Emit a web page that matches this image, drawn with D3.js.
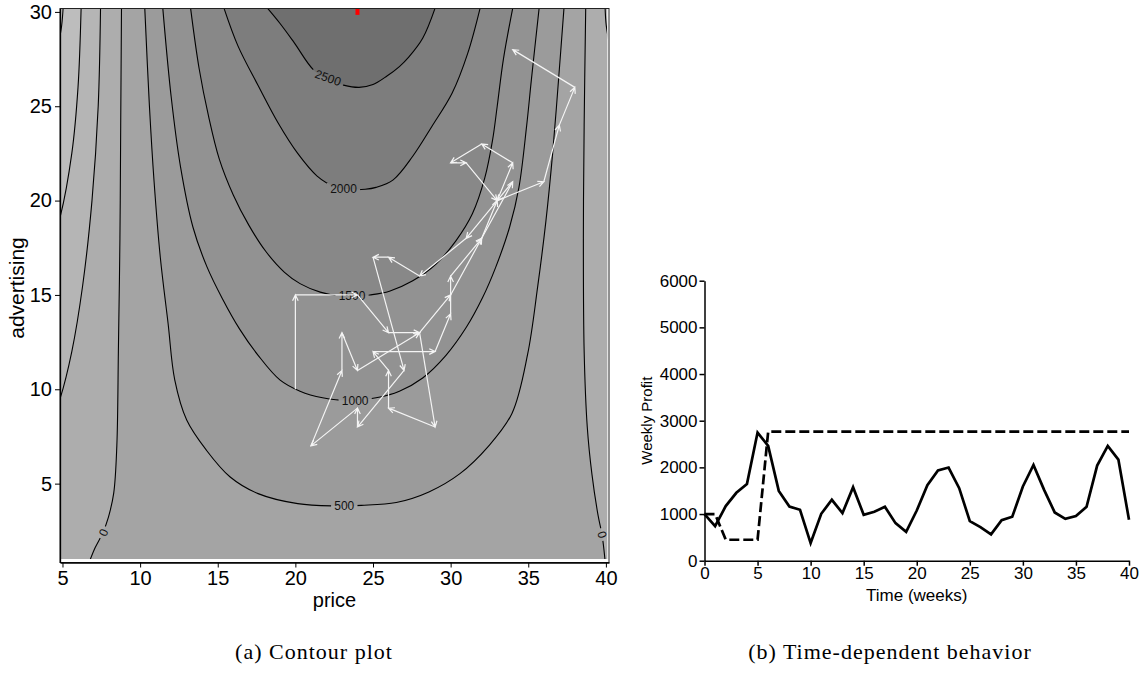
<!DOCTYPE html>
<html>
<head>
<meta charset="utf-8">
<script src="https://cdn.jsdelivr.net/npm/d3@7"></script>
<style>
  body { margin: 0; background: #fff; }
  svg { display: block; }
  .axis text { font-family: "Liberation Sans", Arial, Helvetica, sans-serif; fill: #000; }
  .axis path, .axis line { stroke: #000; }
</style>
</head>
<body>
<script>
(function () {
  'use strict';

  // contour lines, as [price, advertising] points
  const contour2500 = [[18.2, 30.2], [19.0, 29.4], [19.9, 28.4], [21.2, 26.9], [22.3, 26.35], [23.1, 26.12], [24.1, 26.0],
    [25.0, 26.15], [25.9, 26.6], [26.7, 27.1], [27.3, 27.6], [28.2, 28.6], [29.0, 30.2]];
  const contour2000 = [[15.4, 30.2], [16.3, 28.2], [17.6, 26.1], [18.9, 24.1], [20.15, 22.5], [21.4, 21.3], [22.5, 20.75],
    [23.5, 20.6], [24.5, 20.6], [25.2, 20.7], [26.3, 21.1], [27.56, 22.35], [28.8, 23.94], [30.1, 25.7], [31.1, 27.8], [31.9, 30.2]];
  const contour1500 = [[13.25, 30.2], [13.8, 27], [14.4, 24.5], [15.1, 22.2], [16.0, 20.3], [17.0, 18.7], [18.1, 17.3],
    [19.3, 16.2], [20.3, 15.6], [21.6, 15.15], [22.8, 14.95], [23.8, 14.92], [24.8, 15.0], [26.06, 15.2], [27.56, 15.75],
    [29.06, 16.64], [30.35, 17.88], [31.4, 19.3], [32.2, 21.2], [32.7, 23.2], [33.0, 25], [33.4, 27.5], [34.0, 30.2]];
  const contour1000 = [[11.46, 30.2], [12.0, 25.5], [12.6, 21.8], [13.4, 18.6], [14.3, 16.5], [15.3, 14.8], [16.4, 13.2],
    [17.6, 11.8], [19.0, 10.5], [20.3, 9.9], [21.75, 9.55], [23.4, 9.4], [25.2, 9.55], [26.7, 9.9], [28.2, 10.6],
    [29.7, 11.8], [31.0, 13.27], [32.06, 14.86], [32.9, 16.46], [33.8, 18.6], [34.4, 20.7], [34.9, 24], [35.2, 26.4], [35.7, 30.2]];
  const contour500 = [[10.3, 30.2], [10.6, 25], [10.9, 21], [11.3, 17], [11.8, 13.5], [12.23, 10.5], [13.0, 8.37],
    [14.27, 6.77], [15.8, 5.35], [17.6, 4.47], [20.15, 3.94], [22.5, 3.82], [24.24, 3.85], [26.5, 4.0], [28.6, 4.56],
    [30.6, 5.53], [32.4, 6.95], [33.95, 8.72], [34.96, 11.86], [35.6, 15.4], [36.14, 18.94], [36.57, 22.5], [36.95, 26.4], [37.3, 30.2]];
  const contour0Left = [[8.8, 30.2], [8.75, 24], [8.7, 18], [8.6, 12], [8.5, 7], [8.3, 4.5], [7.95, 3.2], [7.6, 2.4], [7.1, 1.6], [6.75, 0.9]];
  const contour0Right = [[38.7, 30.2], [38.6, 24], [38.55, 18], [38.6, 12], [38.8, 8], [39.1, 5.5], [39.5, 3.3], [39.75, 2.3], [39.95, 0.9]];
  const contourM500Left = [[7.45, 30.2], [7.3, 25], [6.9, 20], [6.3, 15.5], [5.6, 12], [4.84, 9.5], [4.6, 9.0]];
  const contourM500Right = [[39.95, 30.2], [40.02, 29.3], [40.2, 28.4]];
  const contourM1000Left = [[6.2, 30.2], [6.0, 26], [5.6, 22.5], [4.84, 19.1], [4.6, 18.5]];
  const contourM1500Left = [[5.04, 30.2], [4.95, 29.3], [4.75, 28.3]];

  const contourLabelText = ['2500', '2000', '1500', '1000', '500', '0', '0'];
  const contourLabelPrice = [22.1, 23.1, 23.65, 23.85, 23.15, 7.65, 39.75];
  const contourLabelAdv = [26.5, 20.62, 14.95, 9.4, 3.8, 2.4, 2.3];
  const contourLabelAngle = [20, 0, 0, 0, 0, -66, 75];

  // weekly moves of (price, advertising)
  const walkPrice = [20, 20, 24, 26, 28, 29, 26, 26, 25, 29, 30, 30, 32, 33, 34, 32, 30, 31, 33, 31, 28, 26, 25, 27,
    24, 24, 21, 23, 23, 24, 28, 30, 32, 34, 33, 36, 37, 38, 34];
  const walkAdvertising = [10, 15, 15, 13, 13, 8, 9, 11, 12, 12, 14, 16, 18, 20, 22, 23, 22, 22, 20, 18, 16, 17, 17, 11,
    8, 9, 7, 11, 13, 11, 13, 15, 18, 21, 20, 21, 24, 26, 28];
  const optimumPoint = [24, 30];

  const priceTicks = [5, 10, 15, 20, 25, 30, 35, 40];
  const advertisingTicks = [5, 10, 15, 20, 25, 30];

  // time series
  const weeks = [0, 1, 2, 3, 4, 5, 6, 7, 8, 9, 10, 11, 12, 13, 14, 15, 16, 17, 18, 19, 20, 21, 22, 23, 24, 25, 26, 27,
    28, 29, 30, 31, 32, 33, 34, 35, 36, 37, 38, 39, 40];
  const profitSearch = [1000, 743, 1170, 1455, 1645, 2745, 2460, 1495, 1160, 1090, 378, 1005, 1305, 1020, 1575, 984,
    1048, 1155, 805, 620, 1076, 1618, 1932, 1996, 1554, 848, 720, 563, 870, 941, 1590, 2053, 1518, 1034, 898, 955,
    1155, 2039, 2459, 2167, 877];
  const profitOptimal = [1000, 1000, 449, 449, 449, 449, 2765, 2765, 2765, 2765, 2765, 2765, 2765, 2765, 2765, 2765,
    2765, 2765, 2765, 2765, 2765, 2765, 2765, 2765, 2765, 2765, 2765, 2765, 2765, 2765, 2765, 2765, 2765, 2765, 2765,
    2765, 2765, 2765, 2765, 2765, 2765];
  const weekTicks = [0, 5, 10, 15, 20, 25, 30, 35, 40];
  const profitTicks = [0, 1000, 2000, 3000, 4000, 5000, 6000];

  // band colours, lightest (lowest) to darkest (highest)
  const bandColors = ['#c5c5c5', '#bdbdbd', '#b5b5b5', '#adadad', '#a4a4a4', '#9b9b9b', '#929292', '#888888', '#7d7d7d', '#6f6f6f'];

  const font = '"Liberation Sans", Arial, Helvetica, sans-serif';

  const svg = d3.select('body').append('svg')
    .attr('width', 1141)
    .attr('height', 682);

  drawContourPlot();
  drawTimePlot();
  drawCaptions();

  function drawContourPlot() {
    const x = d3.scaleLinear().domain([4.84, 40.2]).range([60, 609]);
    const y = d3.scaleLinear().domain([0.82, 30.18]).range([562.5, 8.5]);

    // extent of the coloured image
    const imgL = 4.84, imgR = 40.08, imgB = 1.0, imgT = 30.18;

    const defs = svg.append('defs');
    defs.append('clipPath').attr('id', 'imgClip')
      .append('rect')
      .attr('x', x(imgL))
      .attr('y', y(imgT))
      .attr('width', x(imgR) - x(imgL))
      .attr('height', y(imgB) - y(imgT));

    const line = d3.line()
      .x(d => x(d[0]))
      .y(d => y(d[1]))
      .curve(d3.curveCatmullRom.alpha(0.5));
    const asTail = (pts) => line(pts).replace(/^M/, 'L');
    const pt = (p, a) => 'L' + x(p) + ',' + y(a);

    const fills = svg.append('g').attr('clip-path', 'url(#imgClip)');

    // lowest band as background
    fills.append('rect')
      .attr('x', x(imgL)).attr('y', y(imgT))
      .attr('width', x(imgR) - x(imgL)).attr('height', y(imgB) - y(imgT))
      .attr('fill', bandColors[0]);

    // negative levels: region right of the left branch
    const outerClose = pt(4.5, 0.5) + pt(40.5, 0.5) + pt(40.5, 30.5);
    fills.append('path').attr('d', line(contourM1500Left) + outerClose + 'Z').attr('fill', bandColors[1]);
    fills.append('path').attr('d', line(contourM1000Left) + outerClose + 'Z').attr('fill', bandColors[2]);
    fills.append('path')
      .attr('d', line(contourM500Left) + pt(4.5, 0.5) + pt(40.5, 0.5) + pt(40.5, 28.3) + asTail(contourM500Right.slice().reverse()) + 'Z')
      .attr('fill', bandColors[3]);
    fills.append('path')
      .attr('d', line(contour0Left) + asTail(contour0Right.slice().reverse()) + 'Z')
      .attr('fill', bandColors[4]);

    const uShapes = [contour500, contour1000, contour1500, contour2000, contour2500];
    uShapes.forEach((c, i) => {
      fills.append('path').attr('d', line(c) + 'Z').attr('fill', bandColors[5 + i]);
    });

    // gaps in the lines under the labels
    const mask = defs.append('mask').attr('id', 'labelGap')
      .attr('maskUnits', 'userSpaceOnUse')
      .attr('x', 0).attr('y', 0).attr('width', 1141).attr('height', 682);
    mask.append('rect').attr('x', 0).attr('y', 0).attr('width', 1141).attr('height', 682).attr('fill', '#fff');
    contourLabelText.forEach((t, i) => {
      const w = t.length * 6.8 + 6;
      mask.append('rect')
        .attr('x', -w / 2).attr('y', -6)
        .attr('width', w).attr('height', 12)
        .attr('transform', 'translate(' + x(contourLabelPrice[i]) + ',' + y(contourLabelAdv[i]) + ') rotate(' + contourLabelAngle[i] + ')')
        .attr('fill', '#000');
    });

    const lines = svg.append('g').attr('clip-path', 'url(#imgClip)')
      .append('g').attr('mask', 'url(#labelGap)');
    [contourM1500Left, contourM1000Left, contourM500Left, contourM500Right, contour0Left, contour0Right]
      .concat(uShapes)
      .forEach(c => {
        lines.append('path')
          .attr('d', line(c))
          .attr('fill', 'none')
          .attr('stroke', '#000')
          .attr('stroke-width', 1.1);
      });

    svg.append('g').selectAll('text')
      .data(contourLabelText)
      .enter()
      .append('text')
      .attr('transform', (d, i) => 'translate(' + x(contourLabelPrice[i]) + ',' + y(contourLabelAdv[i]) + ') rotate(' + contourLabelAngle[i] + ')')
      .attr('text-anchor', 'middle')
      .attr('dominant-baseline', 'central')
      .style('font-family', font)
      .style('font-size', '12px')
      .style('fill', '#111')
      .text(d => d);

    // search path with arrows
    const arrows = svg.append('g').attr('clip-path', 'url(#imgClip)');
    for (let i = 0; i + 1 < walkPrice.length; i++) {
      const x1 = x(walkPrice[i]), y1 = y(walkAdvertising[i]);
      const x2 = x(walkPrice[i + 1]), y2 = y(walkAdvertising[i + 1]);
      const th = Math.atan2(y2 - y1, x2 - x1);
      const L = 6.5, a = 0.45;
      arrows.append('path')
        .attr('d', 'M' + x1 + ',' + y1 + 'L' + x2 + ',' + y2 +
          'M' + (x2 - L * Math.cos(th - a)) + ',' + (y2 - L * Math.sin(th - a)) +
          'L' + x2 + ',' + y2 +
          'L' + (x2 - L * Math.cos(th + a)) + ',' + (y2 - L * Math.sin(th + a)))
        .attr('fill', 'none')
        .attr('stroke', '#f4f4f4')
        .attr('stroke-width', 1.2);
    }

    // optimum marker
    svg.append('g').attr('clip-path', 'url(#imgClip)')
      .append('rect')
      .attr('x', x(optimumPoint[0]) - 2)
      .attr('y', y(optimumPoint[1]) - 4)
      .attr('width', 4)
      .attr('height', 7)
      .attr('fill', '#ff0000');

    // frame
    svg.append('rect')
      .attr('x', 60).attr('y', 8.5)
      .attr('width', 549).attr('height', 554)
      .attr('fill', 'none')
      .attr('stroke', '#222')
      .attr('stroke-width', 1);

    const xAxis = svg.append('g')
      .attr('class', 'axis')
      .attr('transform', 'translate(0,562.5)')
      .call(d3.axisBottom(x).tickValues(priceTicks).tickSize(5).tickSizeOuter(0));
    xAxis.selectAll('text').style('font-size', '20px');
    xAxis.select('.domain').attr('stroke-width', 1.3);

    const yAxis = svg.append('g')
      .attr('class', 'axis')
      .attr('transform', 'translate(60,0)')
      .call(d3.axisLeft(y).tickValues(advertisingTicks).tickSize(5).tickSizeOuter(0));
    yAxis.selectAll('text').style('font-size', '20px');
    yAxis.select('.domain').attr('stroke-width', 1.3);

    svg.append('text')
      .attr('x', 334.5)
      .attr('y', 607)
      .attr('text-anchor', 'middle')
      .style('font-family', font)
      .style('font-size', '20px')
      .text('price');

    svg.append('text')
      .attr('transform', 'translate(24,288) rotate(-90)')
      .attr('text-anchor', 'middle')
      .style('font-family', font)
      .style('font-size', '21px')
      .text('advertising');
  }

  function drawTimePlot() {
    const x = d3.scaleLinear().domain([0, 40]).range([704.5, 1129]);
    const y = d3.scaleLinear().domain([0, 6000]).range([560.7, 280.7]);

    const xAxis = svg.append('g')
      .attr('class', 'axis')
      .attr('transform', 'translate(0,560.7)')
      .call(d3.axisBottom(x).tickValues(weekTicks).tickSize(5).tickSizeOuter(0).tickPadding(1));
    xAxis.selectAll('text').style('font-size', '17px');
    xAxis.selectAll('path, line').attr('stroke', '#333').attr('stroke-width', 1.5);

    const yAxis = svg.append('g')
      .attr('class', 'axis')
      .attr('transform', 'translate(704.5,0)')
      .call(d3.axisLeft(y).tickValues(profitTicks).tickFormat(d3.format('d')).tickSize(5).tickSizeOuter(0).tickPadding(2));
    yAxis.selectAll('text').style('font-size', '17px');
    yAxis.selectAll('path, line').attr('stroke', '#333').attr('stroke-width', 1.5);

    const line = d3.line()
      .x((d, i) => x(weeks[i]))
      .y(d => y(d));

    svg.append('path')
      .datum(profitOptimal)
      .attr('d', line)
      .attr('fill', 'none')
      .attr('stroke', '#000')
      .attr('stroke-width', 2.7)
      .attr('stroke-dasharray', '10,4');

    svg.append('path')
      .datum(profitSearch)
      .attr('d', line)
      .attr('fill', 'none')
      .attr('stroke', '#000')
      .attr('stroke-width', 2.7)
      .attr('stroke-linejoin', 'miter');

    svg.append('text')
      .attr('x', 916.75)
      .attr('y', 601)
      .attr('text-anchor', 'middle')
      .style('font-family', font)
      .style('font-size', '17px')
      .text('Time (weeks)');

    svg.append('text')
      .attr('transform', 'translate(652,420.7) rotate(-90)')
      .attr('text-anchor', 'middle')
      .style('font-family', font)
      .style('font-size', '15px')
      .text('Weekly Profit');
  }

  function drawCaptions() {
    const serif = '"Liberation Serif", "Times New Roman", serif';
    svg.append('text')
      .attr('x', 314)
      .attr('y', 659)
      .attr('text-anchor', 'middle')
      .style('font-family', serif)
      .style('font-size', '22px')
      .style('letter-spacing', '1px')
      .text('(a) Contour plot');

    svg.append('text')
      .attr('x', 890)
      .attr('y', 659)
      .attr('text-anchor', 'middle')
      .style('font-family', serif)
      .style('font-size', '22px')
      .style('letter-spacing', '1px')
      .text('(b) Time-dependent behavior');
  }
})();
</script>
</body>
</html>
